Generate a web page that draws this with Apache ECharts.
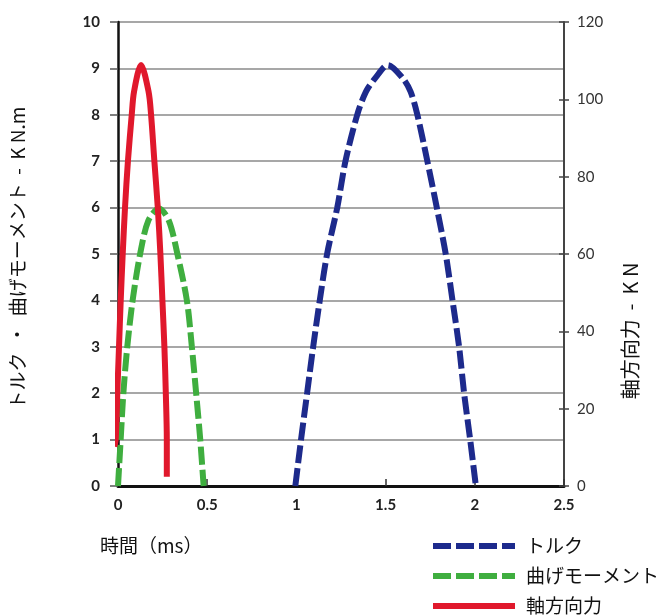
<!DOCTYPE html>
<html><head><meta charset="utf-8">
<script src="https://cdn.jsdelivr.net/npm/echarts@6/dist/echarts.min.js"></script>
<style>html,body{margin:0;padding:0;background:#fff}#c{width:672px;height:615px}</style>
</head><body><div id="c"></div>
<script>
var xTicks = ['0','0.5','1','1.5','2','2.5'];
var leftTicks = [0,1,2,3,4,5,6,7,8,9,10];
var rightTicks = [0,20,40,60,80,100,120];
var seriesNames = ['トルク','曲げモーメント','軸方向力'];
// トルク (kN.m) [time ms, value]
var torque = [[0.994,0],[1.026,1],[1.060,2],[1.094,3],[1.131,4],[1.172,5],[1.229,6],[1.275,7],[1.341,8],[1.39,8.5],[1.444,8.8],[1.513,9.07],[1.594,8.8],[1.64,8.5],[1.678,8],[1.734,7],[1.787,6],[1.837,5],[1.875,4],[1.912,3],[1.940,2],[1.974,1],[2.006,0]];
// 曲げモーメント (kN.m)
var bending = [[0,0],[0.015,1],[0.030,2],[0.052,3],[0.082,4],[0.124,5],[0.17,5.72],[0.23,5.98],[0.285,5.72],[0.333,5],[0.386,4],[0.414,3],[0.438,2],[0.461,1],[0.48,0]];
// 軸方向力 (kN)
var axial = [[-0.0208,10.2],[-0.0129,12],[-0.0039,24],[0.0056,36],[0.0152,48],[0.0264,60],[0.0393,72],[0.0556,84],[0.0770,96],[0.0899,102],[0.1292,108.9],[0.1713,102],[0.1854,96],[0.2039,84],[0.2230,72],[0.2376,60],[0.2489,48],[0.2601,36],[0.2680,24],[0.2736,12],[0.2736,2.4]];

var chart = echarts.init(document.getElementById('c'), null, {renderer:'canvas'});
var numFont = {fontFamily:'Lato', fontWeight:'bold', fontSize:15, color:'#222'};
chart.setOption({
  animation:false,
  backgroundColor:'#fff',
  grid:{left:118, right:108, top:22, bottom:129, containLabel:false},
  xAxis:{type:'value', min:0, max:2.5, interval:0.5,
    axisLine:{show:true, lineStyle:{color:'#111', width:3}},
    axisTick:{show:true, inside:true, length:7, lineStyle:{color:'#333', width:1.5}},
    axisLabel:Object.assign({margin:12, formatter:function(v){var i=Math.round(v/0.5);return xTicks[i]||'';}}, numFont),
    splitLine:{show:false}
  },
  yAxis:[
    {type:'value', min:leftTicks[0], max:leftTicks[leftTicks.length-1], interval:1, position:'left',
      axisLine:{show:true, lineStyle:{color:'#111', width:2.5}},
      axisTick:{show:true, length:8, lineStyle:{color:'#555', width:1.5}},
      axisLabel:Object.assign({margin:18}, numFont),
      splitLine:{show:true, lineStyle:{color:'#8a8a8a', width:1.5}}
    },
    {type:'value', min:rightTicks[0], max:rightTicks[rightTicks.length-1], interval:20, position:'right',
      axisLine:{show:true, lineStyle:{color:'#444', width:2}},
      axisTick:{show:true, length:5, lineStyle:{color:'#444', width:1.5}},
      axisLabel:Object.assign({margin:13}, numFont, {fontWeight:'normal', color:'#333'}),
      splitLine:{show:false}
    },
    {type:'value', min:0, max:120, interval:20, position:'right',
      axisLine:{show:false}, axisLabel:{show:false}, splitLine:{show:false},
      axisTick:{show:true, inside:true, length:5, lineStyle:{color:'#444', width:1.5}}
    }
  ],
  legend:{orient:'vertical', left:430, top:536, height:120, padding:0, itemWidth:82, itemHeight:20, itemGap:10,
    itemStyle:{opacity:0}, lineStyle:{width:6},
    textStyle:{fontFamily:'Noto Sans CJK JP', fontSize:19, lineHeight:20, color:'#111', padding:[0,0,0,6]},
    data:seriesNames},
  series:[
    {name:seriesNames[0], type:'line', data:torque, yAxisIndex:0, smooth:0.3, symbol:'none', clip:false,
      lineStyle:{color:'#1d2a8c', width:6, type:[18,5]}, itemStyle:{color:'#1d2a8c'}},
    {name:seriesNames[1], type:'line', data:bending, yAxisIndex:0, smooth:0.3, symbol:'none', clip:false,
      lineStyle:{color:'#3fae3f', width:6, type:[18,5]}, itemStyle:{color:'#3fae3f'}},
    {name:seriesNames[2], type:'line', data:axial, yAxisIndex:1, smooth:0.3, symbol:'none', clip:false,
      lineStyle:{color:'#e0182c', width:6}, itemStyle:{color:'#e0182c'}}
  ],
  graphic:[
    {type:'text', x:100, y:546, style:{text:'時間（ms）', font:'19px "Noto Sans CJK JP"', fill:'#111', verticalAlign:'middle'}},
    {type:'text', x:18, y:258, rotation:Math.PI/2, style:{text:'トルク  ・  曲げモーメント  -  K N.m', font:'19px "Noto Sans CJK JP"', fill:'#111', align:'center', verticalAlign:'middle'}},
    {type:'text', x:630, y:331, rotation:Math.PI/2, style:{text:'軸方向力  -  K N', font:'20px "Noto Sans CJK JP"', fill:'#111', align:'center', verticalAlign:'middle'}}
  ]
});
</script></body></html>
